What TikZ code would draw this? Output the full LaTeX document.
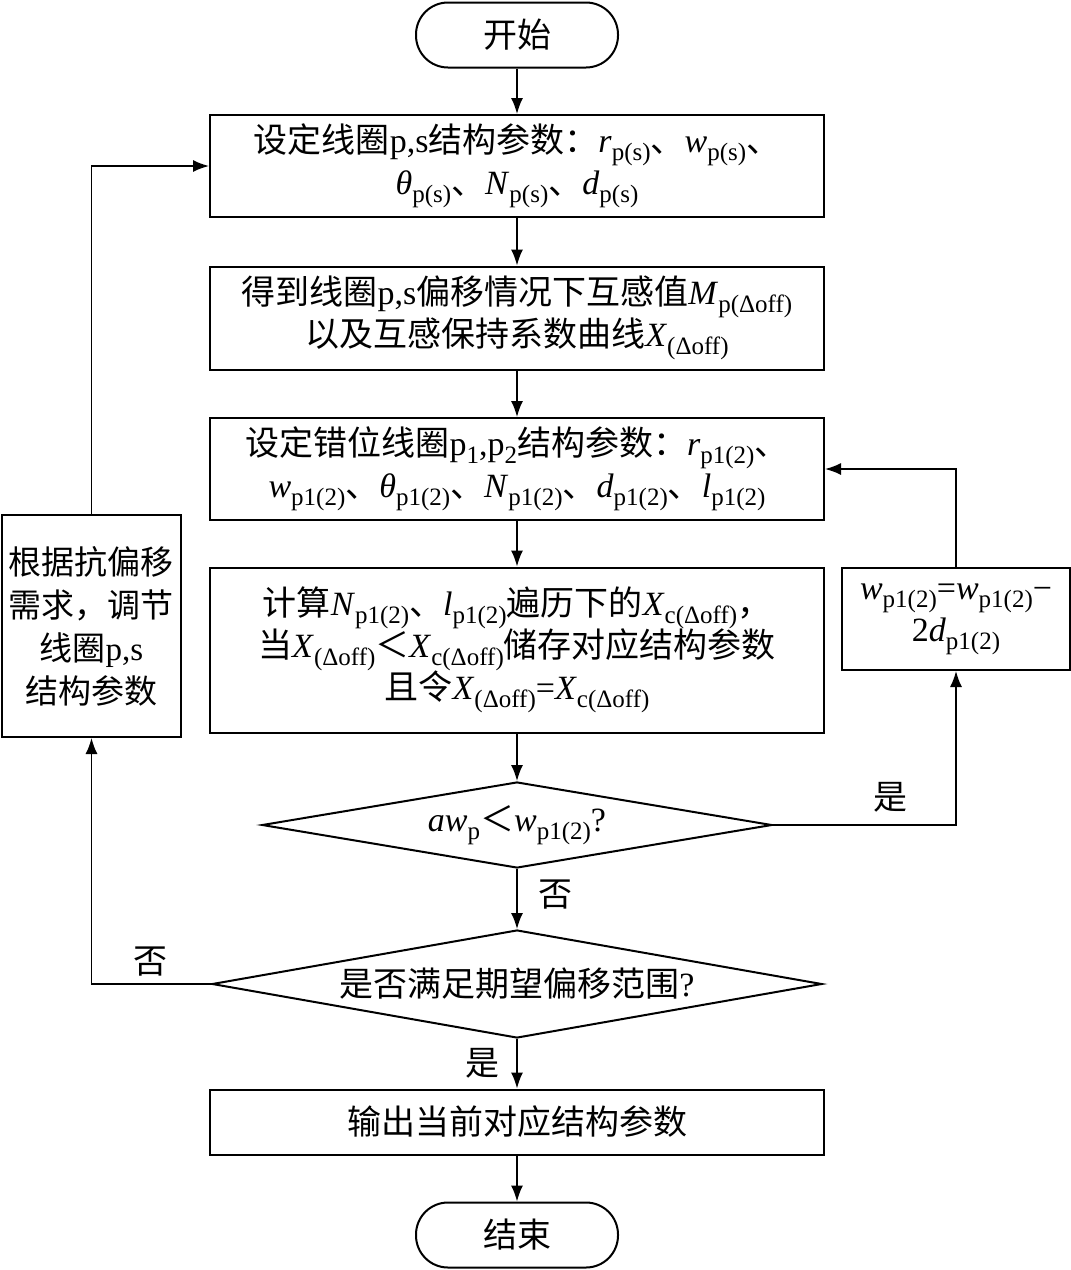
\documentclass[tikz,border=0pt]{standalone}
\usepackage{amsmath}
\usepackage{fontspec}
\setmainfont{Liberation Serif}
\newfontfamily\cjk{Noto Sans CJK SC}
\usepackage{tikz}
\usetikzlibrary{positioning}
\usetikzlibrary{arrows.meta}
\usetikzlibrary{shapes.geometric}
\newcommand{\zh}[1]{{\cjk #1}}
\newcommand{\lo}[1]{\raisebox{-0.5ex}{\fontsize{12.5}{13}\selectfont #1}}
\newcommand{\vsub}[2]{\textit{#1}\lo{#2}}

\begin{document}
\begin{tikzpicture}[x=0.5pt,y=-0.5pt,>={Latex[length=8pt,width=6pt]},line join=miter,
    font=\fontsize{17}{21}\selectfont,
    procbox/.style={rectangle,draw,line width=1pt,minimum width=307pt,inner sep=0pt},
    termbox/.style={rectangle,draw,line width=1pt,rounded corners=16pt,minimum width=101pt,minimum height=32.5pt},
    decbox/.style={diamond,draw,line width=1pt,aspect=6,inner sep=0pt}]
            \useasboundingbox (0,0) rectangle (1071,1270);
            %
            \node[align=center] (start) at (517,35) [termbox] {\zh{开始}};
            \node[align=center] (coilps) at (517,166) [procbox,minimum height=51pt] {\zh{设定线圈}p,s\zh{结构参数：}\vsub{r}{p(s)}\zh{、}\vsub{w}{p(s)}\zh{、}\\\vsub{θ}{p(s)}\zh{、}\vsub{N}{p(s)}\zh{、}\vsub{d}{p(s)}};
            \node[align=center] (mutual) at (517,318) [procbox,minimum height=51.5pt] {\zh{得到线圈}p,s\zh{偏移情况下互感值}\vsub{M}{p(Δoff)}\\\zh{以及互感保持系数曲线}\vsub{X}{(Δoff)}};
            \node[align=center] (stagger) at (517,469) [procbox,minimum height=51pt] {\zh{设定错位线圈}p\lo{1},p\lo{2}\zh{结构参数：}\vsub{r}{p1(2)}\zh{、}\\\vsub{w}{p1(2)}\zh{、}\vsub{θ}{p1(2)}\zh{、}\vsub{N}{p1(2)}\zh{、}\vsub{d}{p1(2)}\zh{、}\vsub{l}{p1(2)}};
            \node[align=center] (sweep) at (517,650) [procbox,minimum height=82.5pt] {\zh{计算}\vsub{N}{p1(2)}\zh{、}\vsub{l}{p1(2)}\zh{遍历下的}\vsub{X}{c(Δoff)}\zh{，}\\\zh{当}\vsub{X}{(Δoff)}\zh{＜}\vsub{X}{c(Δoff)}\zh{储存对应结构参数}\\\zh{且令}\vsub{X}{(Δoff)}=\vsub{X}{c(Δoff)}};
            \node[align=center] (widthchk) at (517,825) [decbox,minimum width=255pt,minimum height=43pt] {\textit{a}\vsub{w}{p}\zh{＜}\vsub{w}{p1(2)}?};
            \node[align=center] (rangechk) at (517,984) [decbox,minimum width=305pt,minimum height=54pt] {\zh{是否满足期望偏移范围}?};
            \node[align=center] (output) at (517,1122) [procbox,minimum height=32.5pt] {\zh{输出当前对应结构参数}};
            \node[align=center] (stop) at (517,1235) [termbox] {\zh{结束}};
            \node[align=center] (adjust) at (91.5,626) [rectangle,draw,line width=1pt,minimum width=89.5pt,minimum height=111pt,inner sep=0pt,font=\fontsize{16.5}{21.5}\selectfont] {\zh{根据抗偏移}\\\zh{需求，调节}\\\zh{线圈}p,s\\\zh{结构参数}};
            \node[align=center] (shrink) at (956,619) [rectangle,draw,line width=1pt,minimum width=114pt,minimum height=51pt,inner sep=0pt] {\vsub{w}{p1(2)}=\vsub{w}{p1(2)}−\\2\vsub{d}{p1(2)}};
            %
            \node (yesw) at (890,797) {\zh{是}};
            \node (now) at (555,895) {\zh{否}};
            \node (nor) at (150,962) {\zh{否}};
            \node (yesr) at (482,1063) {\zh{是}};
            %
            \draw [color=black,thick,->] (start) to (coilps);
            \draw [color=black,thick,->] (coilps) to (mutual);
            \draw [color=black,thick,->] (mutual) to (stagger);
            \draw [color=black,thick,->] (stagger) to (sweep);
            \draw [color=black,thick,->] (sweep) to (widthchk);
            \draw [color=black,thick,->] (widthchk) to (rangechk);
            \draw [color=black,thick,->] (rangechk) to (output);
            \draw [color=black,thick,->] (output) to (stop);
            \draw [color=black,thick,->] (widthchk.east) -| (shrink.south);
            \draw [color=black,thick,->] (shrink.north) |- (stagger.east);
            \draw [color=black,thick,->] (rangechk.west) -| (adjust.south);
            \draw [color=black,thick,->] (adjust.north) |- (coilps.west);
            %
        \end{tikzpicture}
\end{document}
